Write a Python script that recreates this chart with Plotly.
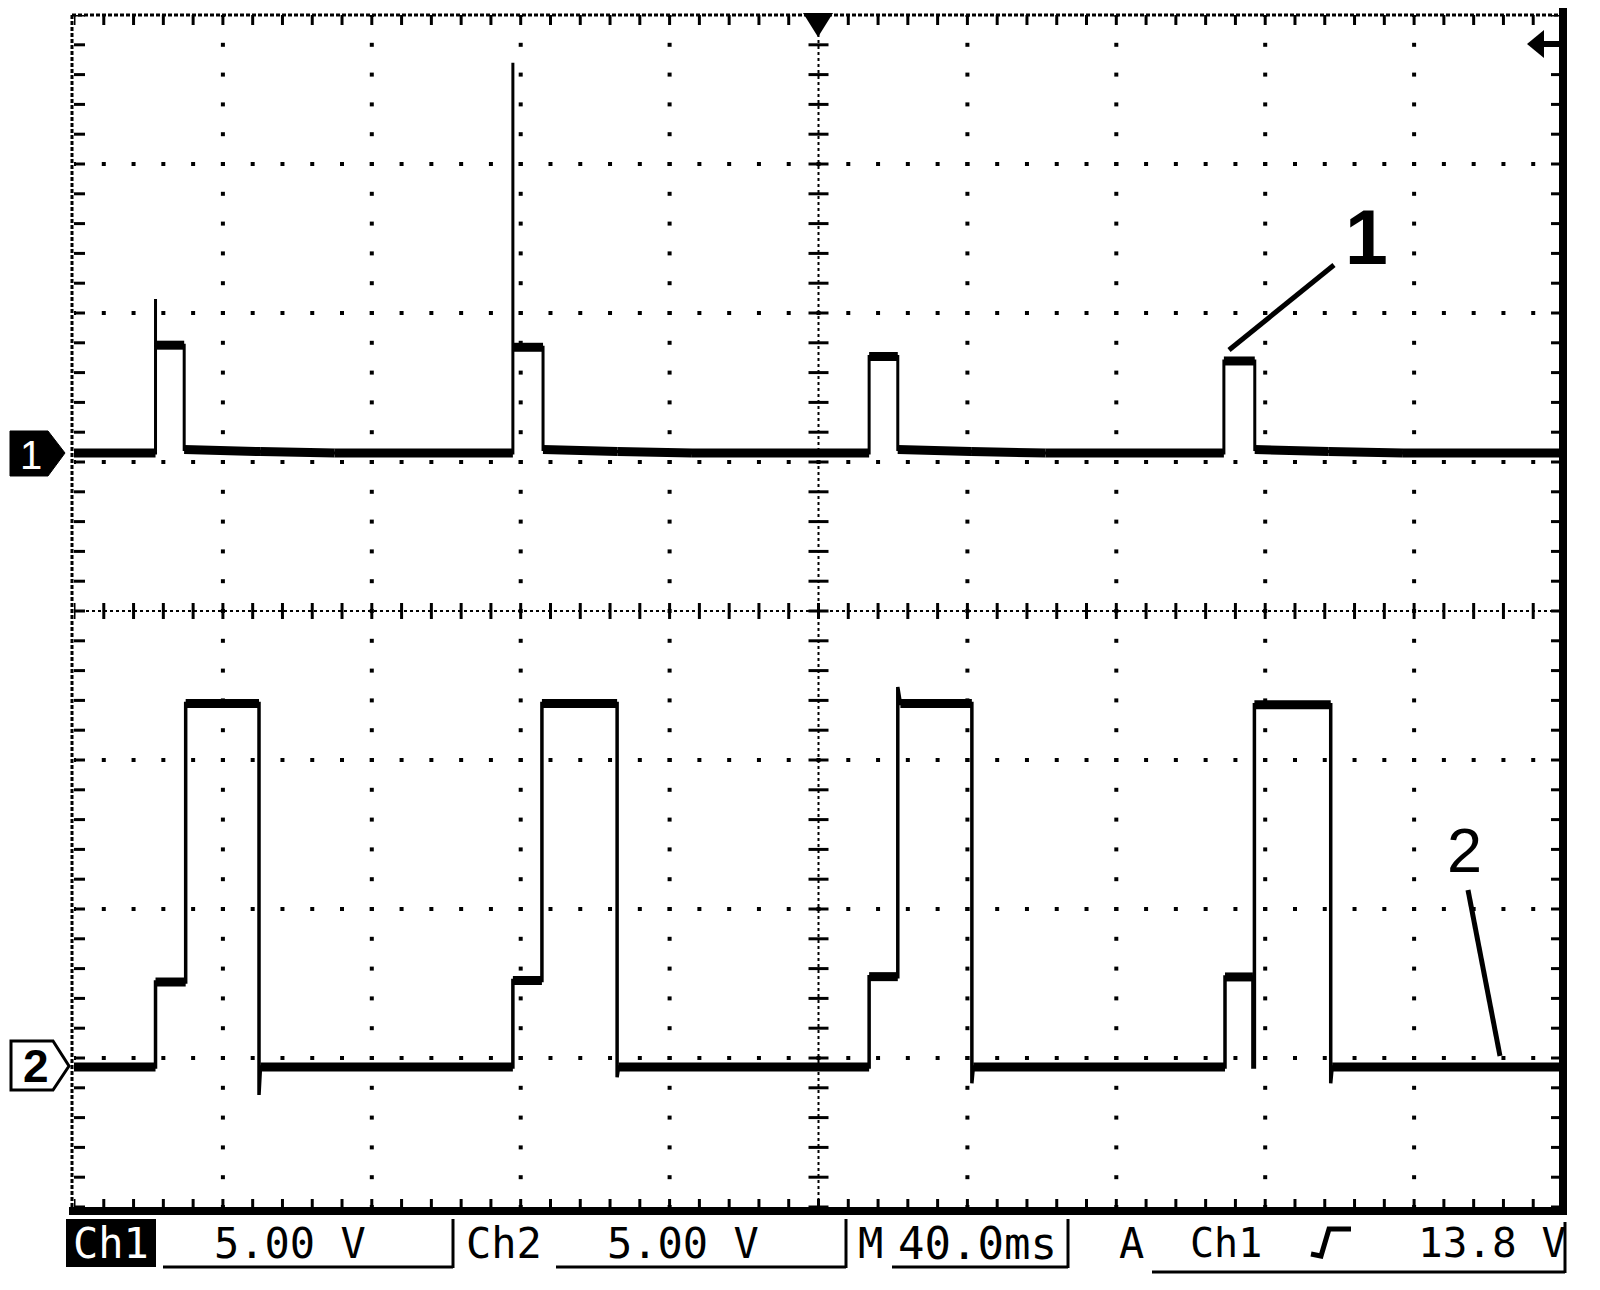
import plotly.graph_objects as go

# ---------------- data ----------------
time_per_div_ms = 40.0
volts_per_div = 5.0
n_div_x, n_div_y = 10, 8
ch1_ground_div = 5.06      # channel-1 ground marker position (divisions from bottom)
ch2_ground_div = 0.94      # channel-2 ground marker position
trigger_level_v = 13.8

ch1_time_ms = [0.0, 21.9, 21.9, 21.9, 29.6, 29.6, 50.0, 70.0,
               117.9, 117.9, 117.9, 126.0, 126.0, 146.0, 166.0,
               213.6, 213.6, 221.3, 221.3, 241.0, 261.0,
               308.9, 308.9, 317.2, 317.2, 337.0, 357.0, 400.0]
ch1_volts = [0.0, 0.0, 5.17, 3.62, 3.62, 0.12, 0.05, 0.0,
             0.0, 13.1, 3.55, 3.55, 0.12, 0.05, 0.0,
             0.0, 3.24, 3.24, 0.12, 0.05, 0.0,
             0.0, 3.09, 3.09, 0.12, 0.05, 0.0, 0.0]

ch2_time_ms = [0.0, 21.9, 21.9, 30.0, 30.0, 49.7, 49.7, 50.1,
               117.9, 117.9, 125.7, 125.7, 145.9, 145.9, 146.3,
               213.6, 213.6, 221.3, 221.3, 222.0, 241.2, 241.2, 241.6,
               309.2, 309.2, 316.7, 316.7, 317.1, 317.1, 337.6, 337.6, 338.0, 400.0]
ch2_volts = [0.0, 0.0, 2.85, 2.85, 12.2, 12.2, -0.94, 0.0,
             0.0, 2.9, 2.9, 12.2, 12.2, -0.35, 0.0,
             0.0, 3.03, 3.03, 12.75, 12.2, 12.2, -0.55, 0.0,
             0.0, 3.02, 3.02, 0.0, 0.0, 12.15, 12.15, -0.55, 0.0, 0.0]

status_labels = ["Ch1", "5.00 V", "Ch2", "5.00 V", "M", "40.0ms", "A", "Ch1", "13.8 V"]
callout_labels = ["1", "2"]

# ---------------- page geometry ----------------
W, H = 1600, 1290
ML, MT, PW, PH = 74, 15, 1489, 1192
MR, MB = W - ML - PW, H - MT - PH
x_max = n_div_x * time_per_div_ms


def px(x):
    return (x - ML) / PW


def py(y):
    return (MT + PH - y) / PH


def band(ts, vs, min_dt=1.0):
    bx, by = [], []
    for i in range(len(ts) - 1):
        if ts[i + 1] - ts[i] > min_dt:
            bx += [ts[i], ts[i + 1], None]
            by += [vs[i], vs[i + 1], None]
    return bx, by


fig = go.Figure()

# grid dots
gx, gy = [], []
for k in range(1, n_div_x):
    if k == n_div_x // 2:
        continue
    for m in range(0, n_div_y * 5 + 1):
        gx.append(k * time_per_div_ms)
        gy.append(m * 0.2)
for j in range(1, n_div_y):
    if j == n_div_y // 2:
        continue
    for m in range(0, n_div_x * 5 + 1):
        gx.append(m * time_per_div_ms / 5)
        gy.append(j)
fig.add_trace(go.Scatter(x=gx, y=gy, mode="markers", yaxis="y3",
                         marker=dict(symbol="square", size=4, color="black"),
                         hoverinfo="skip"))

# ticks on centre lines and borders (in division units)
ms_per_px = time_per_div_ms / (PW / n_div_x)
div_per_px = n_div_y / PH
tx, ty = [], []
xc = x_max / 2
for m in range(0, n_div_y * 5 + 1):
    y = m * 0.2
    tx += [xc - 10 * ms_per_px, xc + 10 * ms_per_px, None]; ty += [y, y, None]
    tx += [0, 11 * ms_per_px, None]; ty += [y, y, None]
    tx += [x_max - 12 * ms_per_px, x_max, None]; ty += [y, y, None]
for m in range(0, n_div_x * 5 + 1):
    x = m * time_per_div_ms / 5
    tx += [x, x, None]; ty += [n_div_y / 2 - 8 * div_per_px, n_div_y / 2 + 8 * div_per_px, None]
    tx += [x, x, None]; ty += [n_div_y, n_div_y - 10 * div_per_px, None]
    tx += [x, x, None]; ty += [0, 8 * div_per_px, None]
fig.add_trace(go.Scatter(x=tx, y=ty, mode="lines", yaxis="y3",
                         line=dict(color="black", width=3), hoverinfo="skip"))

# waveforms: thin edges + thicker noisy flat bands
b1x, b1y = band(ch1_time_ms, ch1_volts)
b2x, b2y = band(ch2_time_ms, ch2_volts)
fig.add_trace(go.Scatter(x=b1x, y=b1y, mode="lines", yaxis="y",
                         line=dict(color="black", width=9), hoverinfo="skip"))
fig.add_trace(go.Scatter(x=ch1_time_ms, y=ch1_volts, mode="lines", yaxis="y",
                         line=dict(color="black", width=3), name="Ch1"))
fig.add_trace(go.Scatter(x=b2x, y=b2y, mode="lines", yaxis="y2",
                         line=dict(color="black", width=9), hoverinfo="skip"))
fig.add_trace(go.Scatter(x=ch2_time_ms, y=ch2_volts, mode="lines", yaxis="y2",
                         line=dict(color="black", width=3.5), name="Ch2"))

shapes = []
# centre dashed lines
shapes.append(dict(type="line", xref="x", yref="y3", x0=xc, x1=xc, y0=0, y1=n_div_y,
                   line=dict(color="black", width=2, dash="3px,3px")))
shapes.append(dict(type="line", xref="x", yref="y3", x0=0, x1=x_max, y0=n_div_y / 2, y1=n_div_y / 2,
                   line=dict(color="black", width=2, dash="3px,3px")))
# borders
shapes.append(dict(type="line", xref="paper", yref="paper", x0=px(72), x1=px(72), y0=py(15), y1=py(1207),
                   line=dict(color="black", width=3, dash="4px,2px")))
shapes.append(dict(type="line", xref="paper", yref="paper", x0=px(72), x1=px(1563), y0=py(15), y1=py(15),
                   line=dict(color="black", width=3, dash="4px,2px")))
shapes.append(dict(type="rect", xref="paper", yref="paper", x0=px(1559), x1=px(1567), y0=py(8), y1=py(1215),
                   fillcolor="black", line=dict(width=0)))
shapes.append(dict(type="rect", xref="paper", yref="paper", x0=px(69), x1=px(1567), y0=py(1207), y1=py(1215),
                   fillcolor="black", line=dict(width=0)))


def path(points, close=True):
    s = "M " + " L ".join(f"{px(a):.5f},{py(b):.5f}" for a, b in points)
    return s + (" Z" if close else "")


# trigger position marker (top) and trigger level marker (right)
shapes.append(dict(type="path", xref="paper", yref="paper",
                   path=path([(803, 13), (833, 13), (818, 37)]), fillcolor="black", line=dict(width=0)))
shapes.append(dict(type="path", xref="paper", yref="paper",
                   path=path([(1527, 44), (1544, 30), (1544, 58)]), fillcolor="black", line=dict(width=0)))
shapes.append(dict(type="rect", xref="paper", yref="paper", x0=px(1543), x1=px(1560), y0=py(47), y1=py(41),
                   fillcolor="black", line=dict(width=0)))
# channel ground markers
shapes.append(dict(type="path", xref="paper", yref="paper",
                   path=path([(10, 431), (48, 431), (65, 453), (48, 476), (10, 476)]),
                   fillcolor="black", line=dict(color="black", width=1)))
shapes.append(dict(type="path", xref="paper", yref="paper",
                   path=path([(11, 1041), (53, 1041), (69, 1066), (53, 1090), (11, 1090)]),
                   fillcolor="white", line=dict(color="black", width=3)))
# callout leader lines
shapes.append(dict(type="line", xref="paper", yref="paper", x0=px(1334), y0=py(265), x1=px(1229), y1=py(350),
                   line=dict(color="black", width=5)))
shapes.append(dict(type="line", xref="paper", yref="paper", x0=px(1468), y0=py(890), x1=px(1500), y1=py(1056),
                   line=dict(color="black", width=5)))
# status bar boxes / underlines
shapes.append(dict(type="rect", xref="paper", yref="paper", x0=px(66), x1=px(156), y0=py(1267), y1=py(1219),
                   fillcolor="black", line=dict(width=0)))
for (a, b, c, d) in [(163, 1267, 453, 1267), (453, 1219, 453, 1268),
                     (556, 1267, 846, 1267), (846, 1219, 846, 1268),
                     (892, 1267, 1068, 1267), (1068, 1219, 1068, 1268),
                     (1152, 1272, 1565, 1272), (1565, 1222, 1565, 1273)]:
    shapes.append(dict(type="line", xref="paper", yref="paper", x0=px(a), y0=py(b), x1=px(c), y1=py(d),
                       line=dict(color="black", width=3)))
# rising-edge trigger slope symbol
shapes.append(dict(type="path", xref="paper", yref="paper",
                   path=path([(1311, 1254), (1321, 1256), (1329, 1229), (1351, 1229)], close=False),
                   fillcolor="rgba(0,0,0,0)", line=dict(color="black", width=5)))

annotations = []


def txt(s, x, y, size, color="black", family="DejaVu Sans Mono", bold=False):
    annotations.append(dict(text=(f"<b>{s}</b>" if bold else s), x=px(x), y=py(y), xref="paper", yref="paper",
                            showarrow=False, xanchor="center", yanchor="middle",
                            font=dict(family=family, size=size, color=color)))


status_pos = [(111, 42, "white"), (289.5, 42, "black"), (503.5, 42, "black"), (682.5, 42, "black"),
              (870, 42, "black"), (978, 44, "black"), (1131, 42, "black"), (1226, 40, "black"),
              (1491.5, 41, "black")]
for lab, (x, s, c) in zip(status_labels, status_pos):
    txt(lab, x, 1243, s, c)

txt("1", 31, 455, 40, "white", "Liberation Sans")
txt("2", 36, 1066, 46, "black", "Liberation Sans", bold=True)
txt(callout_labels[0], 1366, 237, 77, "black", "Liberation Sans", bold=True)
txt(callout_labels[1], 1464, 850, 63, "black", "Liberation Sans")

fig.update_layout(
    width=W, height=H, margin=dict(l=ML, r=MR, t=MT, b=MB, pad=0),
    paper_bgcolor="white", plot_bgcolor="white", showlegend=False,
    xaxis=dict(range=[0, x_max], visible=False, fixedrange=True),
    yaxis=dict(range=[-ch1_ground_div * volts_per_div, (n_div_y - ch1_ground_div) * volts_per_div],
               visible=False),
    yaxis2=dict(range=[-ch2_ground_div * volts_per_div, (n_div_y - ch2_ground_div) * volts_per_div],
                visible=False, overlaying="y"),
    yaxis3=dict(range=[0, n_div_y], visible=False, overlaying="y"),
    shapes=shapes, annotations=annotations,
)

fig.write_html("out.html", config={"displayModeBar": False},
               post_script="document.body.style.margin='0';")
